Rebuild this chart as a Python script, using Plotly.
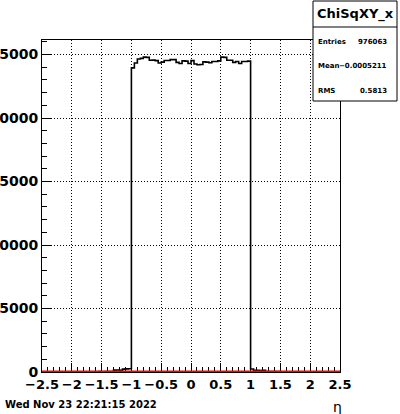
import numpy as np
import plotly.graph_objects as go

# ---- data ----
x_min, x_max, n_bins = -2.5, 2.5, 100
left_tail = [20, 30, 25, 35, 30, 40, 150, 160, 140, 230, 250, 260]
core = [23950, 24330, 24650, 24700, 24800, 24780, 24550, 24560, 24520, 24330,
        24400, 24530, 24530, 24600, 24600, 24380, 24300, 24500, 24480, 24300,
        24520, 24250, 24200, 24220, 24420, 24400, 24350, 24450, 24450, 24500,
        24800, 24780, 24550, 24550, 24380, 24450, 24300, 24450, 24450, 24480]
right_tail = [240, 140, 130, 120, 130, 40, 35, 40, 30, 35, 25]
counts = [0] * 18 + left_tail + core + right_tail + [0] * 19
fit_x = [-2.5, 2.5]
fit_y = [0, 0]
y_ticks = [0, 5000, 10000, 15000, 20000, 25000]
x_ticks = [-2.5, -2, -1.5, -1, -0.5, 0, 0.5, 1, 1.5, 2, 2.5]
x_ticktext = ["\u22122.5", "\u22122", "\u22121.5", "\u22121", "\u22120.5", "0", "0.5", "1", "1.5", "2", "2.5"]
stats_title = "ChiSqXY_x"
stats_rows = [("Entries", "976063"), ("Mean", "\u22120.0005211"), ("RMS", "0.5813")]
date_text = "Wed Nov 23 22:21:15 2022"
x_title = "\u03b7"

edges = np.linspace(x_min, x_max, n_bins + 1)
ys = list(counts) + [counts[-1]]

W, H = 400, 414
L, R, T, B = 42, 60, 40, 42
pw, ph = W - L - R, H - T - B


def px(xp):
    return (xp - L) / pw


def py(yp):
    return (H - B - yp) / ph


FONT = "DejaVu Sans"

fig = go.Figure()
fig.add_trace(go.Scatter(x=edges, y=ys, mode="lines", line=dict(shape="hv", color="black", width=1.6),
                         hoverinfo="skip", showlegend=False))
fig.add_trace(go.Scatter(x=fit_x, y=fit_y, mode="lines", line=dict(color="red", width=3),
                         hoverinfo="skip", showlegend=False))

axis_common = dict(
    showline=True, linecolor="black", linewidth=1, mirror=True,
    ticks="inside", ticklen=9, tickcolor="black", tickwidth=1,
    showgrid=True, gridcolor="black", griddash="1px,2px", gridwidth=1,
    zeroline=False, automargin=False, tickangle=0, layer="below traces",
)

fig.update_xaxes(range=[x_min, x_max], tickvals=x_ticks, ticktext=x_ticktext,
                 tickfont=dict(family=FONT, size=13, color="black", weight="bold"),
                 minor=dict(dtick=0.1, tick0=-2.5, ticks="inside", ticklen=5, tickcolor="black", showgrid=False),
                 **axis_common)
fig.update_yaxes(range=[0, 26145], tickvals=y_ticks, ticktext=[str(v) for v in y_ticks],
                 tickfont=dict(family=FONT, size=14, color="black", weight="bold"),
                 minor=dict(dtick=1000, tick0=0, ticks="inside", ticklen=5, tickcolor="black", showgrid=False),
                 **axis_common)

shapes = [
    dict(type="rect", xref="paper", yref="paper", x0=px(313), x1=px(397), y0=py(101), y1=py(1),
         line=dict(color="black", width=1), fillcolor="white", layer="above"),
    dict(type="line", xref="paper", yref="paper", x0=px(313), x1=px(397), y0=py(27), y1=py(27),
         line=dict(color="black", width=1), layer="above"),
]

ann = [
    dict(text=stats_title, x=px(355), y=py(14), xanchor="center", yanchor="middle",
         font=dict(family=FONT, size=13, color="black", weight="bold")),
]
row_y = [42, 66, 91]
for (lab, val), yy in zip(stats_rows, row_y):
    ann.append(dict(text=lab, x=px(316), y=py(yy), xanchor="left", yanchor="middle",
                    font=dict(family=FONT, size=7, color="black", weight="bold")))
    ann.append(dict(text=val, x=px(389), y=py(yy), xanchor="right", yanchor="middle",
                    font=dict(family=FONT, size=7, color="black", weight="bold")))
ann.append(dict(text=date_text, x=px(3), y=py(405), xanchor="left", yanchor="middle",
                font=dict(family=FONT, size=10, color="black", weight="bold")))
ann.append(dict(text=x_title, x=px(337), y=py(407), xanchor="center", yanchor="middle",
                font=dict(family=FONT, size=14, color="black")))
for a in ann:
    a.update(xref="paper", yref="paper", showarrow=False)

fig.update_layout(
    width=W, height=H, margin=dict(l=L, r=R, t=T, b=B, pad=0, autoexpand=False),
    plot_bgcolor="white", paper_bgcolor="white",
    shapes=shapes, annotations=ann, showlegend=False,
)

fig.write_html("out.html", config={"displayModeBar": False},
               post_script="document.body.style.margin='0';document.body.style.overflow='hidden';")
